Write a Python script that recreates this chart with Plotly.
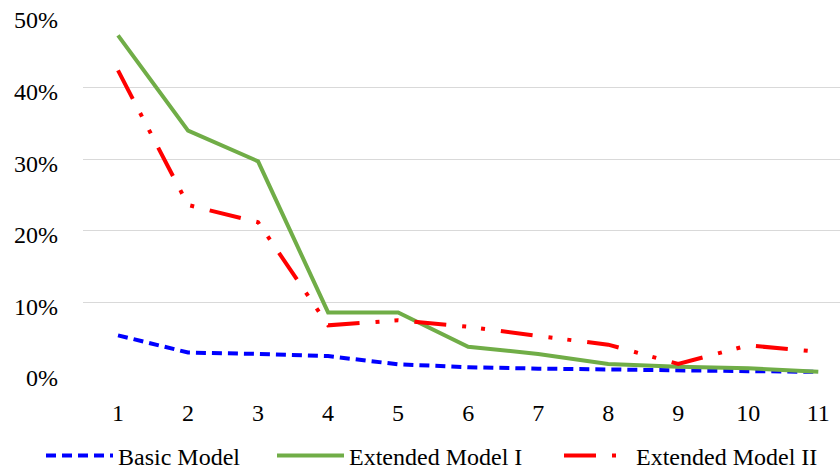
import plotly.graph_objects as go

categories = [1, 2, 3, 4, 5, 6, 7, 8, 9, 10, 11]
basic_model = [5.4, 3.0, 2.8, 2.5, 1.35, 0.95, 0.75, 0.6, 0.5, 0.4, 0.3]
extended_1 = [47.3, 34.0, 29.7, 8.6, 8.6, 3.8, 2.8, 1.4, 1.0, 0.8, 0.3]
extended_2 = [42.4, 23.6, 21.2, 6.8, 7.5, 6.6, 5.3, 4.1, 1.4, 4.0, 3.1]
y_ticks = [0, 10, 20, 30, 40, 50]

FONT = "Liberation Serif, Times New Roman, serif"
tfont = dict(family=FONT, size=24, color="#000000")

fig = go.Figure()
fig.add_trace(go.Scatter(
    x=categories, y=[v / 100 for v in basic_model], name="Basic Model",
    mode="lines", line=dict(color="#0000FF", width=4, dash="10px,6px"),
    legend="legend"))
fig.add_trace(go.Scatter(
    x=categories, y=[v / 100 for v in extended_1], name="Extended Model I",
    mode="lines", line=dict(color="#70AD47", width=4),
    legend="legend2"))
fig.add_trace(go.Scatter(
    x=categories, y=[v / 100 for v in extended_2], name="Extended Model II",
    mode="lines", line=dict(color="#FF0000", width=4, dash="32px,16px,4px,15px,4px,16px"),
    legend="legend3"))


def leg(x_px):
    return dict(orientation="h", xref="container", yref="container",
                x=x_px / 840, xanchor="left", y=1 - 456 / 472, yanchor="middle",
                font=tfont, itemwidth=67, bgcolor="rgba(0,0,0,0)")


fig.update_layout(
    width=840, height=472,
    margin=dict(l=83, r=0, t=16, b=98, autoexpand=False),
    plot_bgcolor="white", paper_bgcolor="white",
    font=tfont,
    showlegend=True,
    legend=leg(41),
    legend2=leg(272),
    legend3=leg(559),
    xaxis=dict(range=[0.5, 11.31], tickvals=categories,
               ticktext=[str(c) for c in categories], tickfont=tfont,
               showgrid=False, zeroline=False, showline=False, ticks="",
               ticklabelstandoff=22),
    yaxis=dict(range=[0, 0.5], tickvals=[t / 100 for t in y_ticks],
               ticktext=[f"{t}%" for t in y_ticks], tickfont=tfont,
               showgrid=True, gridcolor="#D9D9D9", gridwidth=1.3,
               zeroline=False, showline=False, ticks="",
               ticklabelstandoff=24, ticklabelshift=4),
)

fig.write_html("out.html")
